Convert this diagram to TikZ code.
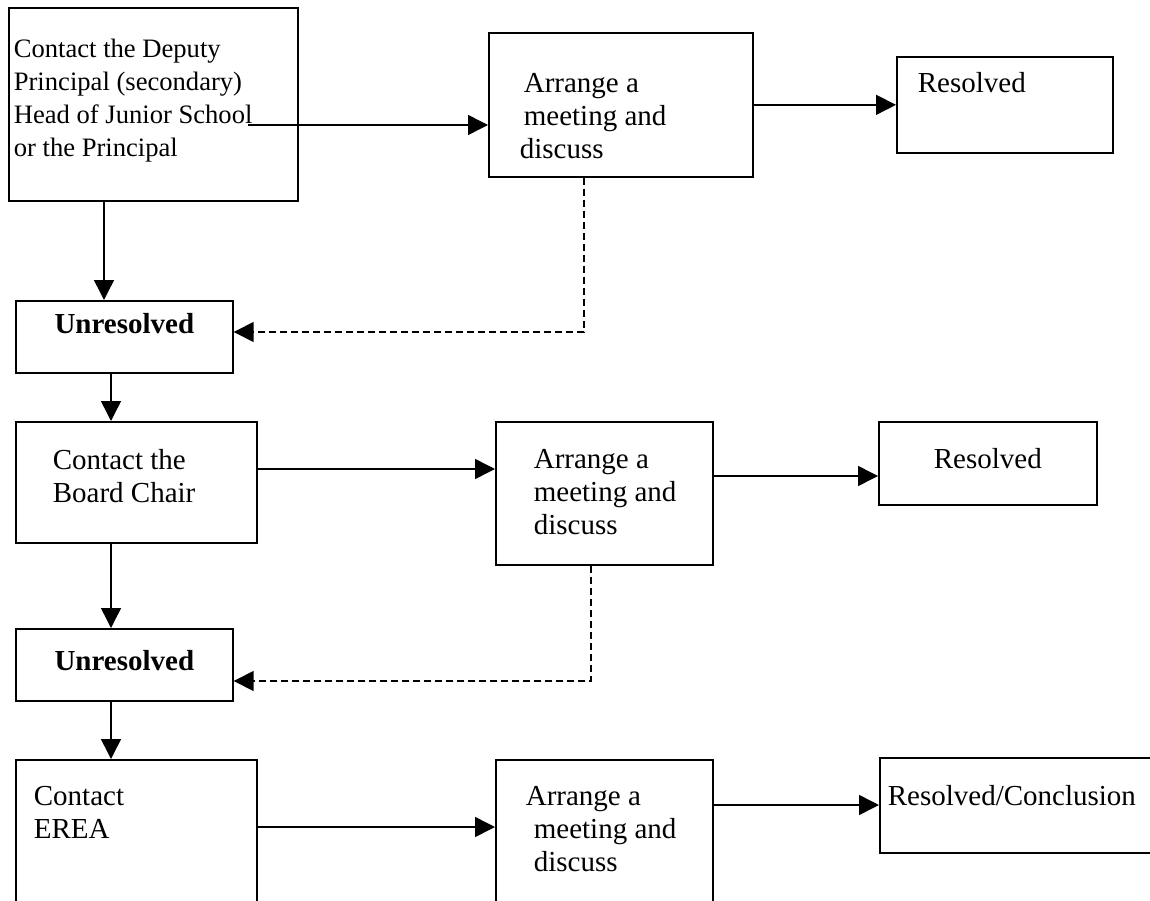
\documentclass[tikz,border=0pt]{standalone}
\usepackage{fontspec}
\setmainfont{Liberation Serif}
\usepackage{tikz}
\usetikzlibrary{arrows.meta,positioning,calc}
\tikzset{
  box/.style={draw, line width=1.7pt, anchor=north west, align=flush left,
              inner xsep=0pt, inner ysep=0pt,
              font=\fontsize{29}{33}\selectfont},
  unres/.style={box, align=flush center,
              font=\fontsize{29}{33}\selectfont\bfseries},
  sig/.style={-{Triangle[length=20pt,width=20pt]}, line width=1.5pt},
  back/.style={sig, dashed, dash pattern=on 7pt off 4pt},
}

\begin{document}
\begin{tikzpicture}[x=1pt,y=-1pt]
  \useasboundingbox (0,0) rectangle (1150,901);
  \clip (0,0) rectangle (1150,901);

  % first row
  \node[box, text width=289pt, text height=50pt, text depth=143pt,
        font=\fontsize{26.6}{33}\selectfont] (dep) at (8,7)
    {\leftskip=5pt Contact the Deputy\\ Principal (secondary)\\
     Head of Junior School\\ or the Principal\par};
  \node[box, text width=264pt, text height=60pt, text depth=84pt] (mt1) at (488,32)
    {\leftskip=35pt Arrange a\\ meeting and\\ \hspace*{-4pt}discuss\par};
  \node[box, text width=216pt, text height=36pt, text depth=60pt] (res1) at (896,56)
    {\leftskip=21pt Resolved\par};
  \node[unres, text width=217pt, text height=33pt, text depth=39pt] (un1) at (15,300)
    {Unresolved};

  % second row
  \node[box, text width=241pt, text height=48pt, text depth=73pt] (brd) at (15,421)
    {\leftskip=37pt Contact the\\ Board Chair\par};
  \node[box, text width=217pt, text height=47pt, text depth=96pt] (mt2) at (495,421)
    {\leftskip=38pt Arrange a\\ meeting and\\ discuss\par};
  \node[box, align=flush center, text width=218pt, text height=47pt, text depth=36pt] (res2) at (878,421)
    {Resolved};
  \node[unres, text width=217pt, text height=42pt, text depth=30pt] (un2) at (15,628)
    {Unresolved};

  % third row
  \node[box, text width=241pt, text height=46pt, text depth=161pt] (erea) at (15,759)
    {\leftskip=18pt Contact\\ EREA\par};
  \node[box, text width=217pt, text height=46pt, text depth=161pt] (mt3) at (495,759)
    {\leftskip=38pt \hspace*{-8pt}Arrange a\\ meeting and\\ discuss\par};
  \node[box, text width=290pt, text height=48pt, text depth=47pt] (res3) at (879,757)
    {\leftskip=8pt Resolved/Conclusion\par};

  \coordinate (s1) at (248,125);
  \coordinate (c1) at (104,0);
  \coordinate (c2) at (111,0);
  \coordinate (r2) at (0,469);
  \coordinate (r3) at (0,476);
  \coordinate (r5) at (0,827);
  \coordinate (r6) at (0,805);
  \coordinate (d1) at (584,332);
  \coordinate (d2) at (591,681);

  \draw[sig] (s1) -- (s1 -| mt1.west);
  \draw[sig] (mt1) -- (res1);
  \draw[sig] (dep.south -| c1) -- (un1.north -| c1);
  \draw[back] (mt1.south -| d1) |- (un1.east |- d1);
  \draw[sig] (un1.south -| c2) -- (brd.north -| c2);

  \draw[sig] (brd.east |- r2) -- (mt2.west |- r2);
  \draw[sig] (mt2.east |- r3) -- (res2.west |- r3);
  \draw[sig] (brd.south -| c2) -- (un2.north -| c2);
  \draw[back] (mt2.south -| d2) |- (un2.east |- d2);
  \draw[sig] (un2.south -| c2) -- (erea.north -| c2);

  \draw[sig] (erea.east |- r5) -- (mt3.west |- r5);
  \draw[sig] (mt3.east |- r6) -- (res3.west |- r6);
\end{tikzpicture}
\end{document}
